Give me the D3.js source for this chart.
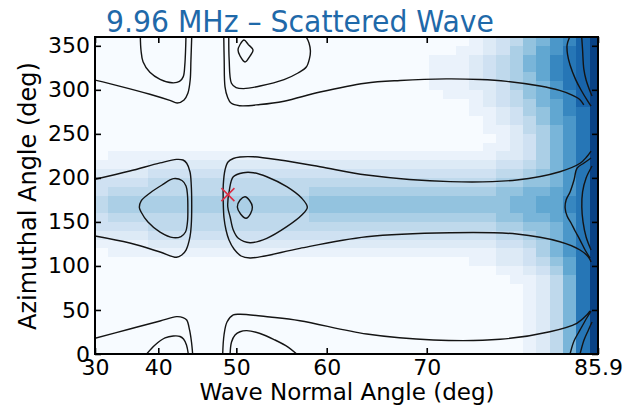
<!DOCTYPE html>
<html>
<head>
<meta charset="utf-8">
<script src="https://cdn.jsdelivr.net/npm/d3@7"></script>
<style>
  html, body { margin: 0; padding: 0; background: #ffffff; }
  svg { display: block; }
</style>
</head>
<body>
<svg id="chart" width="634" height="407"></svg>
<script>
// tick values (wave normal angle in deg, azimuth in deg)
const xTicks = [30, 40, 50, 60, 70, 85.9];
const xTickLabels = ['30', '40', '50', '60', '70', '85.9'];
const yTicks = [0, 50, 100, 150, 200, 250, 300, 350];

// heat levels, hex 0-f. one string per 10 deg azimuth row, top row is 350-360.
// one char per bin of cos(wave normal angle), left to right; spaces only group columns
const heatRows = [
  '0 000 000000000000 0000000000 001234679ace',
  '0 000 000000000000 0000000000 011235689bce',
  '0 000 000000000000 0000000001 11234578abce',
  '0 000 000000000000 0000000001 11234578abce',
  '0 000 000000000000 0000000001 11234568abce',
  '0 000 000000000000 0000000001 112235679bce',
  '0 000 000000000000 0000000000 111234679ace',
  '0 000 000000000000 0000000000 001234578ace',
  '0 000 000000000000 0000000000 001123568abe',
  '0 000 000000000000 0000000000 0001234689be',
  '0 000 000000000000 0000000000 0001124579be',
  '0 000 000000000000 0000000000 0000123579be',
  '0 000 000000000000 0000000000 0001123579be',
  '0 111 111111111111 1111111111 1111223579be',
  '1 111 222222222222 2222222222 2222334579be',
  '2 222 333333333333 3333333333 3333445679be',
  '3 333 444444444444 4444444444 4444556679be',
  '3 444 444444444444 5555555555 5555667789be',
  '4 555 555555555555 6666666666 666667788abe',
  '4 555 555555555555 6666666666 666667788abe',
  '3 444 444444444444 5555555555 5555667789be',
  '3 333 444444444444 4444444444 4444556679be',
  '2 222 333333333333 3333333333 3333445679be',
  '1 111 222222222222 2222222222 2222334579be',
  '0 111 111111111111 1111111111 1111223579be',
  '0 000 000000000000 0000000000 0011223468be',
  '0 000 000000000000 0000000000 0000112358be',
  '0 000 000000000000 0000000000 0000011247be',
  '0 000 000000000000 0000000000 0000001247be',
  '0 000 000000000000 0000000000 0000001247be',
  '0 000 000000000000 0000000000 0000001247be',
  '0 000 000000000000 0000000000 0000001247be',
  '0 000 000000000000 0000000000 0000001247be',
  '0 000 000000000000 0000000000 0000001247be',
  '0 000 000000000000 0000000000 0000001247be',
  '0 000 000000000000 0000000000 0000001247be'
];

// contour lines, points are [wave normal angle, azimuth]
const upperLeftOuter = [[30,311],[34.3,304],[38.8,295],[41.6,288],[42.6,285],[43.5,288.5],[44.0,296],[44.3,311],[44.4,334],[44.5,360]];
const upperLeftInner = [[37.4,360],[37.5,345],[37.8,332],[38.8,320],[40.25,312],[41.9,308],[42.9,309.5],[43.4,315],[43.6,328],[43.7,345],[43.75,360]];
const bandLeftOuter = [[30,198.4],[35.8,207.8],[40.25,217],[42.5,221],[43.36,220.3],[43.85,216.6],[44.28,206.7],[44.44,192],[44.5,167.3],[44.44,146.5],[44.28,133.2],[43.76,118],[43.2,112.4],[42.5,109.8],[40.25,115.8],[35.8,126],[30,134]];
const bandLeftInner = [[42.07,199.1],[43.23,197],[43.76,190.8],[43.95,180.6],[44.0,163.5],[43.95,150],[43.69,138.5],[43.1,133.4],[42.07,132.1],[40.25,138.5],[38.52,150],[37.51,161.3],[37.25,166.6],[37.51,173.7],[38.82,182.8],[40.52,191.9]];
const lowerLeftOuter = [[30,17.8],[35.8,28.4],[40.25,37.5],[42.5,42.4],[43.36,41.4],[43.85,38.6],[44.22,27.3],[44.47,13.6],[44.62,0]];
const lowerLeftInner = [[38.33,0],[39.54,10.2],[40.94,18.2],[42.07,20.4],[42.97,19.9],[43.43,17],[43.82,10.2],[44.06,0]];

const upperRightOuter = [[48.5,360],[48.55,334],[48.65,303.4],[48.95,291.8],[49.37,285],[50.38,282],[52.75,283.3],[55.43,287.1],[59.3,297.5],[63.93,307.5],[67.41,310.6],[71.85,312.4],[75.06,311.7],[77.55,309.6],[80.62,304.3],[82.4,299.3],[83.55,294.1],[84.24,289.1],[84.61,283]];
const upperRightInner = [[49.1,360],[49.15,333.9],[49.42,307.5],[49.97,302.6],[50.86,301.4],[52.75,304.3],[55.43,311.6],[56.95,319.1],[57.84,325.9],[58.19,336.1],[58.28,344.3],[58.13,353.2],[57.84,360]];
const upperDiamond = [[50.9,356.6],[51.4,351.5],[51.95,345.2],[51.6,338.4],[51.02,331.6],[50.44,338.4],[50.2,345.2],[50.44,351.5]];
const bandRightOuter = [[85.27,230.5],[84.88,224],[84.27,216.6],[82.43,207],[78.47,197.6],[72.23,195.7],[64.1,203.3],[59.3,212.7],[54.97,220.3],[51.99,224],[50.44,223.7],[49.64,222],[49.01,218],[48.65,209],[48.44,191.9],[48.44,171.1],[48.53,154.4],[48.77,140.8],[49.13,129.4],[49.72,119.2],[50.56,111.3],[51.6,109],[53.3,111.3],[57.16,120],[64.1,133.2],[72.23,137.7],[78.47,136.3],[82.43,127.5],[84.27,118.1],[85.03,110.2],[85.27,104.5]];
const bandRightMiddle = [[50.82,205.9],[49.64,201.3],[49.17,186.2],[48.98,167.3],[49.26,155.9],[49.64,140.8],[50.24,131.4],[51.6,126.4],[53.51,131.4],[55.73,144.6],[57.36,157.8],[57.95,166.6],[57.36,176.8],[55.73,190],[53.51,201.3],[51.99,205.9]];
const bandDiamond = [[51.02,178.6],[51.55,174.3],[51.87,166.9],[51.66,159.5],[51.14,154.1],[50.5,159],[50.12,166.9],[50.44,174.9]];
const lowerRightInner = [[49.26,0],[49.43,13.6],[49.85,21.6],[50.44,25.3],[51.22,26.5],[52.75,23.3],[54.43,15.9],[55.87,7.9],[56.81,0]];
const lowerRightOuter = [[48.37,0],[48.53,21.6],[48.89,36.3],[49.64,44.3],[50.44,45.1],[53.86,42],[57.16,37.8],[64.1,22.7],[70.63,15.9],[76.93,16.7],[81.51,25.3],[83.97,34.9],[84.88,44.3],[85.18,48.8]];

const topEdgeOuter = [[83.32,360],[83.09,350.9],[83.13,340.2],[83.36,328.2],[83.87,311.6],[84.36,299.8],[84.97,287.1],[85.27,281.4]];
const topEdgeInner = [[84.42,360],[84.5,345.2],[84.61,323.9],[84.82,311.2],[85.15,299.3],[85.36,292.9]];
const bandEdgeOuter = [[85.27,222.6],[84.63,216.9],[84.0,211.2],[83.72,197.6],[83.36,184],[83.0,174.9],[82.91,165.8],[83.09,156.7],[83.45,148.8],[83.82,139.7],[84.27,129.4],[84.73,118.1],[85.18,109]];
const bandEdgeInner = [[85.36,213.5],[84.82,199.9],[84.5,184],[84.43,167],[84.54,150],[84.82,132.9],[85.27,118.1]];
const bottomEdgeOuter = [[85.27,48.8],[84.88,40.9],[84.27,27.3],[83.72,14.8],[83.36,0]];
const bottomEdgeInner = [[85.36,36.3],[85.03,27.3],[84.63,15.9],[84.27,0]];

const crossMark = [49, 181];

const deg = Math.PI / 180;
const frame = { left: 95, right: 598, top: 37, bottom: 354 };

// the angle axis is linear in cos(angle)
const x = d3.scaleLinear()
  .domain([Math.cos(30 * deg), Math.cos(85.9 * deg)])
  .range([frame.left, frame.right]);
const y = d3.scaleLinear().domain([0, 360]).range([frame.bottom, frame.top]);
const xAngle = a => x(Math.cos(a * deg));
const cosStep = Math.cos(30 * deg) / 41;
const heatColor = v => d3.interpolateBlues(v / 15);

const svg = d3.select('#chart');

svg.append('defs').append('clipPath').attr('id', 'plotClip')
  .append('rect')
  .attr('x', frame.left).attr('y', frame.top)
  .attr('width', frame.right - frame.left)
  .attr('height', frame.bottom - frame.top);

// heat map cells
const cells = [];
heatRows.forEach((row, i) => {
  const az = 350 - 10 * i;
  row.replace(/ /g, '').split('').forEach((ch, j) => {
    cells.push({ az: az, cLo: (40 - j) * cosStep, cHi: (41 - j) * cosStep, v: parseInt(ch, 16) });
  });
});

const plot = svg.append('g').attr('clip-path', 'url(#plotClip)');

plot.append('g')
  .selectAll('rect')
  .data(cells)
  .join('rect')
  .attr('x', d => x(d.cHi))
  .attr('y', d => y(d.az + 10))
  .attr('width', d => x(d.cLo) - x(d.cHi) + 0.4)
  .attr('height', d => y(d.az) - y(d.az + 10) + 0.4)
  .attr('fill', d => heatColor(d.v))
  .attr('shape-rendering', 'crispEdges');

// contours
const openLine = d3.line()
  .x(d => xAngle(d[0])).y(d => y(d[1]))
  .curve(d3.curveCatmullRom.alpha(0.5));
const closedLine = d3.line()
  .x(d => xAngle(d[0])).y(d => y(d[1]))
  .curve(d3.curveCatmullRomClosed.alpha(0.5));

const openContours = [upperLeftOuter, upperLeftInner, bandLeftOuter, lowerLeftOuter, lowerLeftInner,
  upperRightOuter, upperRightInner, bandRightOuter, lowerRightInner, lowerRightOuter,
  topEdgeOuter, topEdgeInner, bandEdgeOuter, bandEdgeInner, bottomEdgeOuter, bottomEdgeInner];
const closedContours = [bandLeftInner, upperDiamond, bandRightMiddle, bandDiamond];

plot.append('g')
  .selectAll('path.open')
  .data(openContours)
  .join('path')
  .attr('class', 'open')
  .attr('d', openLine)
  .attr('fill', 'none')
  .attr('stroke', '#141414')
  .attr('stroke-width', 1.4);

plot.append('g')
  .selectAll('path.closed')
  .data(closedContours)
  .join('path')
  .attr('class', 'closed')
  .attr('d', closedLine)
  .attr('fill', 'none')
  .attr('stroke', '#141414')
  .attr('stroke-width', 1.4);

// red cross
const cx = xAngle(crossMark[0]);
const cy = y(crossMark[1]);
const arm = 6.5;
svg.append('path')
  .attr('d', `M${cx - arm},${cy - arm}L${cx + arm},${cy + arm}M${cx - arm},${cy + arm}L${cx + arm},${cy - arm}`)
  .attr('stroke', '#dc2f45')
  .attr('stroke-width', 1.6)
  .attr('fill', 'none');

// axes, ticks point inward on all four sides
const xTickCos = xTicks.map(a => Math.cos(a * deg));

function styleAxis(g, size) {
  g.select('.domain').remove();
  g.selectAll('.tick line').attr('stroke', '#000').attr('stroke-width', 1.6);
  g.attr('font-size', size).attr('font-family', '"DejaVu Sans", sans-serif');
  g.selectAll('.tick text').attr('fill', '#000');
}

svg.append('g')
  .attr('transform', `translate(0,${frame.bottom})`)
  .call(d3.axisBottom(x).tickValues(xTickCos).tickFormat((d, i) => xTickLabels[i])
    .tickSizeInner(-6).tickSizeOuter(0).tickPadding(5))
  .call(g => styleAxis(g, 22));

svg.append('g')
  .attr('transform', `translate(0,${frame.top})`)
  .call(d3.axisTop(x).tickValues(xTickCos).tickFormat('')
    .tickSizeInner(-6).tickSizeOuter(0))
  .call(g => styleAxis(g, 22));

svg.append('g')
  .attr('transform', `translate(${frame.left},0)`)
  .call(d3.axisLeft(y).tickValues(yTicks).tickSizeInner(-6).tickSizeOuter(0).tickPadding(5))
  .call(g => styleAxis(g, 22));

svg.append('g')
  .attr('transform', `translate(${frame.right},0)`)
  .call(d3.axisRight(y).tickValues(yTicks).tickFormat('').tickSizeInner(-6).tickSizeOuter(0))
  .call(g => styleAxis(g, 22));

svg.append('rect')
  .attr('x', frame.left).attr('y', frame.top)
  .attr('width', frame.right - frame.left)
  .attr('height', frame.bottom - frame.top)
  .attr('fill', 'none')
  .attr('stroke', '#000')
  .attr('stroke-width', 2);

// labels
svg.append('text')
  .attr('x', 347)
  .attr('y', 400)
  .attr('text-anchor', 'middle')
  .attr('font-family', '"DejaVu Sans", sans-serif')
  .attr('font-size', 23)
  .text('Wave Normal Angle (deg)');

svg.append('text')
  .attr('transform', 'translate(36,196) rotate(-90)')
  .attr('text-anchor', 'middle')
  .attr('font-family', '"DejaVu Sans", sans-serif')
  .attr('font-size', 24)
  .text('Azimuthal Angle (deg)');

svg.append('text')
  .attr('x', 106)
  .attr('y', 32)
  .attr('font-family', '"DejaVu Sans", sans-serif')
  .attr('font-size', 31)
  .attr('fill', '#1f69a9')
  .attr('textLength', 388)
  .attr('lengthAdjust', 'spacingAndGlyphs')
  .text('9.96 MHz \u2013 Scattered Wave');
</script>
</body>
</html>
